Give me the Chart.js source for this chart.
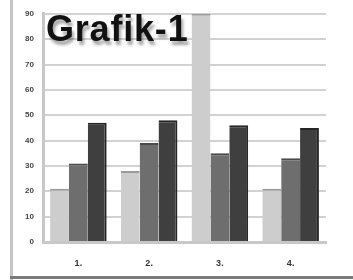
<!DOCTYPE html>
<html>
<head>
<meta charset="utf-8">
<script src="https://cdn.jsdelivr.net/npm/chart.js@4/dist/chart.umd.min.js"></script>
<style>
html,body{margin:0;padding:0;background:#fff;}
#wrap{position:relative;width:353px;height:280px;overflow:hidden;background:#fff;}
#frameL{position:absolute;left:10px;top:0;width:3px;height:280px;background:#c4c4c4;}
#frameB{position:absolute;left:10px;top:276px;width:343px;height:3px;background:#7a7a7a;}
#title{position:absolute;left:46px;top:8px;font-family:"Liberation Sans",Arial,sans-serif;font-weight:bold;font-size:36px;color:#111;text-shadow:2px 4px 3px rgba(0,0,0,0.35);letter-spacing:0.8px;}
canvas{position:absolute;left:0;top:0;}
</style>
</head>
<body>
<div id="wrap">
<canvas id="c" width="353" height="280"></canvas>
<div id="frameL"></div>
<div id="frameB"></div>
<div id="title">Grafik-1</div>
</div>
<script>
const categories = ["1.", "2.", "3.", "4."];
const seriesA = [21, 28, 90, 21];
const seriesB = [31, 39, 35, 33];
const seriesC = [47, 48, 46, 45];
const yTicks = [0, 10, 20, 30, 40, 50, 60, 70, 80, 90];

new Chart(document.getElementById('c'), {
  type: 'bar',
  data: {
    labels: categories,
    datasets: [
      {data: seriesA, backgroundColor: '#cdcdcd', borderColor: '#9a9a9a', borderWidth: {top: 2}},
      {data: seriesB, backgroundColor: '#6e6e6e', borderColor: '#4a4a4a', borderWidth: {top: 2}},
      {data: seriesC, backgroundColor: '#3f3f3f', borderColor: '#262626', borderWidth: {top: 2, right: 2}}
    ]
  },
  options: {
    responsive: false,
    animation: false,
    layout: {padding: {left: 0, top: 13, right: 27, bottom: 0}},
    plugins: {legend: {display: false}, tooltip: {enabled: false}},
    datasets: {bar: {categoryPercentage: 0.8, barPercentage: 1.0}},
    scales: {
      x: {
        grid: {display: false, drawTicks: false},
        border: {display: true, color: '#c8c8c8', width: 3},
        ticks: {padding: 16, color: '#333', font: {family: 'Liberation Sans', size: 9, weight: 'bold'}},
        afterFit: (a) => { a.height = 38; }
      },
      y: {
        min: 0, max: 90,
        afterBuildTicks: (a) => { a.ticks = yTicks.map(v => ({value: v})); },
        grid: {color: '#d2d2d2', lineWidth: 2, drawTicks: false},
        border: {display: true, color: '#c8c8c8', width: 3},
        ticks: {padding: 9, color: '#444', font: {family: 'Liberation Sans', size: 8, weight: 'bold'}},
        afterFit: (a) => { a.width = 43; }
      }
    }
  }
});
</script>
</body>
</html>
